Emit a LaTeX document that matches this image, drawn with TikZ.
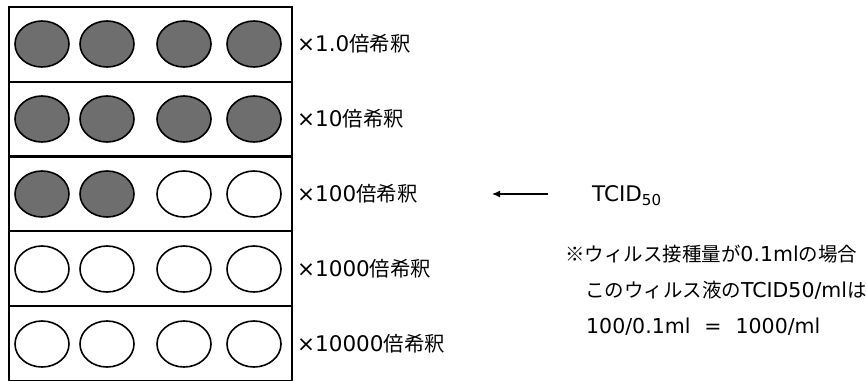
\documentclass[tikz,border=0pt]{standalone}
\usepackage{fontspec}
\setmainfont{DejaVu Sans}
\newfontfamily\jp{Noto Sans CJK JP}[Scale=0.95]
\usetikzlibrary{shapes.geometric,arrows.meta}
\begin{document}
\begin{tikzpicture}[x=1pt,y=-1pt,
  well/.style={ellipse,draw=black,line width=1.6pt,minimum width=54pt,minimum height=46pt,inner sep=0pt},
  poswell/.style={well,fill=black!57},
  negwell/.style={well,fill=white},
  rowbox/.style={draw=black,line width=2pt},
  lab/.style={anchor=west,font=\fontsize{21.5}{22}\selectfont,inner sep=0pt},
  note/.style={anchor=west,font=\fontsize{20.5}{21}\selectfont,inner sep=0pt}]
\useasboundingbox (0,0) rectangle (866,380);
% rows
\foreach \t in {7,82,156,231,306}{
  \draw[rowbox] (9,\t) rectangle (292,\t+75);
}
\foreach \x [count=\k] in {42,107,184,254}{
  \node[poswell] (a\k) at (\x,44) {};
  \node[poswell] (b\k) at (\x,119) {};
}
\node[poswell] (c1) at (42,194) {};
\node[poswell] (c2) at (107,194) {};
\node[negwell] (c3) at (184,194) {};
\node[negwell] (c4) at (254,194) {};
\foreach \x [count=\k] in {42,107,184,254}{
  \node[negwell] (d\k) at (\x,269) {};
  \node[negwell] (e\k) at (\x,344) {};
}
\node[lab] (l1) at (297,44) {×1.0{\jp 倍希釈}};
\node[lab] (l2) at (297,119) {×10{\jp 倍希釈}};
\node[lab] (l3) at (297,194) {×100{\jp 倍希釈}};
\node[lab] (l4) at (297,269) {×1000{\jp 倍希釈}};
\node[lab] (l5) at (297,344) {×10000{\jp 倍希釈}};
\coordinate (arrs) at (548,194);
\coordinate (arre) at (492,194);
\draw[-{Latex[length=8pt,width=7pt]},line width=1.2pt] (arrs) -- (arre);
\node[lab] (tc) at (592,196) {TCID\textsubscript{50}};
\node[note] (n1) at (565,254) {{\jp ※ウィルス接種量が}0.1ml{\jp の場合}};
\node[note] (n2) at (585,290) {{\jp このウィルス液の}TCID50/ml{\jp は}};
\node[note] (n3) at (586,327) {100/0.1ml\hspace{14pt}=\hspace{14pt}1000/ml};
\end{tikzpicture}
\end{document}
